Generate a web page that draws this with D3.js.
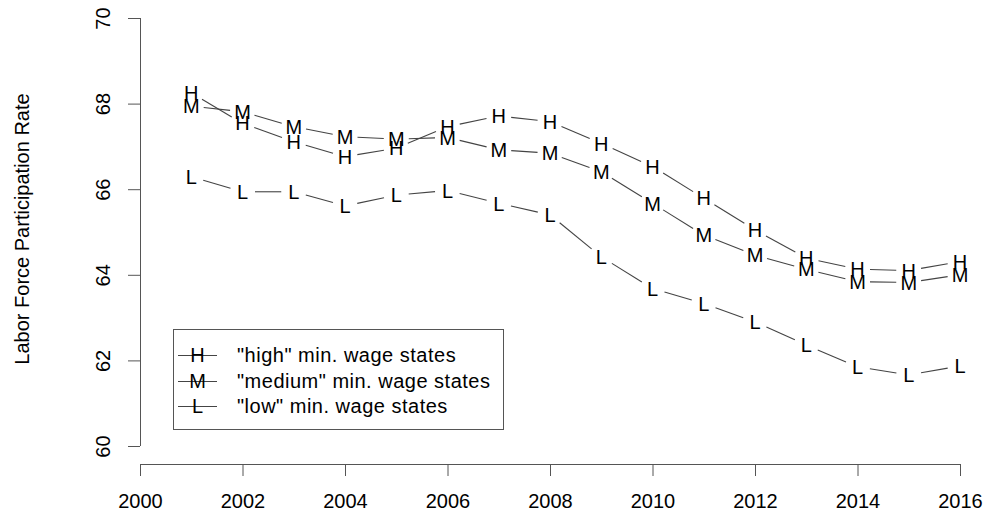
<!DOCTYPE html>
<html>
<head>
<meta charset="utf-8">
<script src="https://cdn.jsdelivr.net/npm/d3@7"></script>
<style>
  html, body { margin: 0; padding: 0; background: #fff; }
  svg { display: block; font-family: "Liberation Sans", Arial, Helvetica, sans-serif; }
</style>
</head>
<body>
<svg id="chart" width="989" height="521"></svg>
<script>
// Labor force participation rate by state minimum-wage group
const years = [2001, 2002, 2003, 2004, 2005, 2006, 2007, 2008, 2009, 2010, 2011, 2012, 2013, 2014, 2015, 2016];
const highWage   = [68.25, 67.54, 67.11, 66.76, 66.96, 67.46, 67.71, 67.58, 67.07, 66.53, 65.79, 65.05, 64.39, 64.13, 64.10, 64.31];
const mediumWage = [67.94, 67.81, 67.46, 67.23, 67.17, 67.21, 66.92, 66.84, 66.41, 65.67, 64.93, 64.46, 64.13, 63.84, 63.82, 64.00];
const lowWage    = [66.29, 65.94, 65.94, 65.61, 65.86, 65.97, 65.67, 65.40, 64.42, 63.68, 63.33, 62.90, 62.36, 61.85, 61.66, 61.87];
const xTicks = [2000, 2002, 2004, 2006, 2008, 2010, 2012, 2014, 2016];
const yTicks = [60, 62, 64, 66, 68, 70];
const seriesSymbols = ["H", "M", "L"];
const seriesLabels = ['"high" min. wage states', '"medium" min. wage states', '"low" min. wage states'];
const seriesValues = [highWage, mediumWage, lowWage];

const svg = d3.select("#chart");
const fontSize = 20;
const ink = "#000";

const x = d3.scaleLinear().domain([2000, 2016]).range([140, 960]);
const y = d3.scaleLinear().domain([60, 70]).range([446, 18]);

// x axis (detached, R style)
const xAxis = d3.axisBottom(x).tickValues(xTicks).tickFormat(d3.format("d")).tickSize(12).tickPadding(18);
const gx = svg.append("g").attr("transform", "translate(0,464)").call(xAxis);
gx.select(".domain").attr("stroke", "#555").attr("d", `M${x(2000)},0.5H${x(2016)}`);
gx.selectAll(".tick line").attr("stroke", "#555");
gx.selectAll(".tick text").attr("font-size", fontSize).attr("fill", ink)
  .attr("font-family", "Liberation Sans, Arial, sans-serif");

// y axis with rotated tick labels
const yAxis = d3.axisLeft(y).tickValues(yTicks).tickFormat(d3.format("d")).tickSize(12).tickPadding(0);
const gy = svg.append("g").attr("transform", "translate(140,0)").call(yAxis);
gy.select(".domain").attr("stroke", "#555").attr("d", `M0.5,${y(70)}V${y(60)}`);
gy.selectAll(".tick line").attr("stroke", "#555");
gy.selectAll(".tick text")
  .attr("font-size", fontSize).attr("fill", ink)
  .attr("font-family", "Liberation Sans, Arial, sans-serif")
  .attr("x", null).attr("dy", null)
  .attr("text-anchor", "middle")
  .attr("transform", "translate(-37,0) rotate(-90)")
  .attr("dy", "0.35em");

// y axis title
svg.append("text")
  .attr("transform", `translate(29,${(y(70) + y(60)) / 2 - 3}) rotate(-90)`)
  .attr("text-anchor", "middle")
  .attr("font-size", fontSize)
  .attr("fill", ink)
  .text("Labor Force Participation Rate");

// lines with gaps around each letter marker (type = "b")
const gap = 12.5;
const plot = svg.append("g");
seriesValues.forEach((vals, si) => {
  const pts = years.map((yr, i) => [x(yr), y(vals[i])]);
  const segs = [];
  for (let i = 0; i < pts.length - 1; i++) {
    const [x0, y0] = pts[i], [x1, y1] = pts[i + 1];
    const dx = x1 - x0, dy = y1 - y0, len = Math.hypot(dx, dy);
    if (len <= 2 * gap) continue;
    const ux = dx / len, uy = dy / len;
    segs.push([x0 + ux * gap, y0 + uy * gap, x1 - ux * gap, y1 - uy * gap]);
  }
  plot.append("g").selectAll("line").data(segs).join("line")
    .attr("x1", d => d[0]).attr("y1", d => d[1])
    .attr("x2", d => d[2]).attr("y2", d => d[3])
    .attr("stroke", "#444").attr("stroke-width", 1.1);
  plot.append("g").selectAll("text").data(pts).join("text")
    .attr("x", d => d[0]).attr("y", d => d[1])
    .attr("text-anchor", "middle")
    .attr("dy", "0.36em")
    .attr("font-size", fontSize)
    .attr("fill", ink)
    .text(seriesSymbols[si]);
});

// legend
const legend = svg.append("g");
legend.append("rect")
  .attr("x", 173.5).attr("y", 329.5).attr("width", 330).attr("height", 100)
  .attr("fill", "#fff").attr("stroke", "#555").attr("stroke-width", 1);
const rowY = [355, 381, 406];
seriesLabels.forEach((lab, i) => {
  const g = legend.append("g").attr("transform", `translate(0,${rowY[i]})`);
  g.append("line").attr("x1", 178).attr("x2", 217).attr("y1", 0.5).attr("y2", 0.5)
    .attr("stroke", "#444").attr("stroke-width", 1.1);
  g.append("text").attr("x", 197.5).attr("y", 0).attr("dy", "0.36em")
    .attr("text-anchor", "middle").attr("font-size", fontSize).attr("fill", ink)
    .text(seriesSymbols[i]);
  g.append("text").attr("x", 237).attr("y", 0).attr("dy", "0.36em")
    .attr("font-size", fontSize).attr("fill", ink)
    .attr("letter-spacing", "0.5px").text(lab);
});
</script>
</body>
</html>
